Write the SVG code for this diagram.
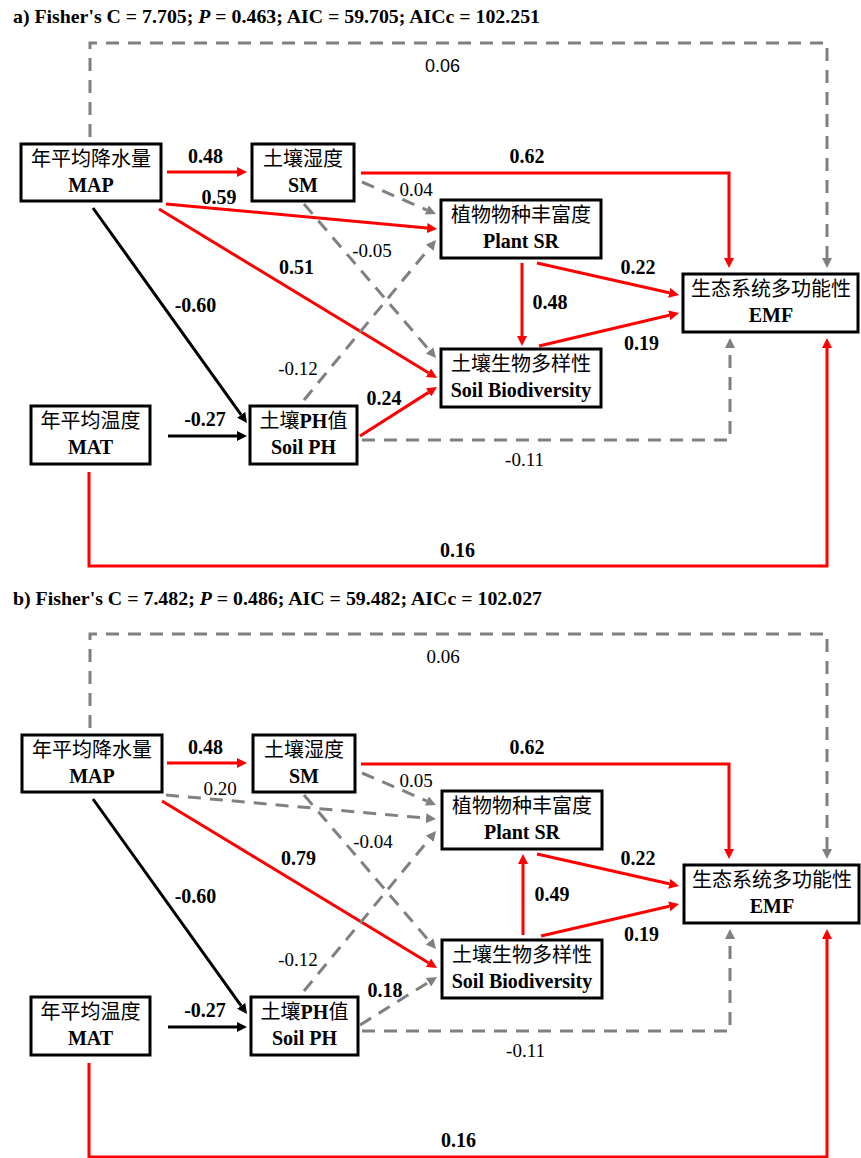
<svg xmlns="http://www.w3.org/2000/svg" width="861" height="1158" viewBox="0 0 861 1158">
<style>
.box{fill:#fff;stroke:#000;stroke-width:3}
.cn{font-family:"Liberation Serif","Noto Sans CJK SC",serif;font-size:20px;text-anchor:middle;fill:#000}
.en{font-family:"Liberation Serif",serif;font-size:20px;font-weight:bold;text-anchor:middle;fill:#000}
.lb{font-family:"Liberation Serif",serif;font-size:20px;font-weight:bold;text-anchor:middle;fill:#000}
.lr{font-family:"Liberation Serif",serif;font-size:19px;text-anchor:middle;fill:#000}
.ls{font-family:"Liberation Sans",sans-serif;font-size:18px;text-anchor:middle;fill:#000}
.ti{font-family:"Liberation Serif",serif;font-size:19px;font-weight:bold;fill:#000}
.r{fill:none;stroke:#ff0000;stroke-width:3;marker-end:url(#ar)}
.k{fill:none;stroke:#000;stroke-width:3;marker-end:url(#ak)}
.g{fill:none;stroke:#808080;stroke-width:3;stroke-dasharray:13 9;marker-end:url(#ag)}
</style>
<defs>
<marker id="ar" markerUnits="userSpaceOnUse" markerWidth="10" markerHeight="10" viewBox="0 0 10 10" refX="0" refY="5" orient="auto"><path d="M0,0 L10,5 L0,10 z" fill="#ff0000"/></marker>
<marker id="ak" markerUnits="userSpaceOnUse" markerWidth="10" markerHeight="10" viewBox="0 0 10 10" refX="0" refY="5" orient="auto"><path d="M0,0 L10,5 L0,10 z" fill="#000"/></marker>
<marker id="ag" markerUnits="userSpaceOnUse" markerWidth="10" markerHeight="10" viewBox="0 0 10 10" refX="0" refY="5" orient="auto"><path d="M0,0 L10,5 L0,10 z" fill="#808080"/></marker>
</defs>
<rect width="861" height="1158" fill="#fff"/>

<text class="ti" x="13" y="23" textLength="527" lengthAdjust="spacingAndGlyphs">a) Fisher's C = 7.705; <tspan font-style="italic">P</tspan> = 0.463; AIC = 59.705; AICc = 102.251</text>
<text class="ti" x="13" y="605" textLength="529" lengthAdjust="spacingAndGlyphs">b) Fisher's C = 7.482; <tspan font-style="italic">P</tspan> = 0.486; AIC = 59.482; AICc = 102.027</text>

<g id="panelA">
<g id="edgesA">
<path class="r" d="M167,172 L237,172"/>
<path class="r" d="M166,204 L427.04,228.08"/>
<path class="r" d="M159,209 L428.45,372.8"/>
<path class="k" d="M93,208 L241.18,414.87"/>
<path class="k" d="M168,436 L237,436"/>
<path class="g" d="M362,182 L426.82,210.03"/>
<path class="g" d="M304,204 L429.49,350.41"/>
<path class="r" d="M361,173 L729,173 L729,258"/>
<path class="g" d="M304,400 L429.64,247.71"/>
<path class="r" d="M360,436 L428.56,392.37"/>
<path class="g" d="M362,440 L730,440 L730,348"/>
<path class="r" d="M522,263 L522,336"/>
<path class="r" d="M537,263 L669.24,292.8"/>
<path class="r" d="M539,346 L669.27,315.29"/>
<path class="g" d="M90,137 L90,43 L827,43 L827,258"/>
<path class="r" d="M89,472 L89,566 L827,566 L827,348"/>
<text class="lb" x="205.5" y="163">0.48</text>
<text class="lb" x="219" y="204">0.59</text>
<text class="lb" x="296.5" y="274">0.51</text>
<text class="lb" x="195.5" y="312">-0.60</text>
<text class="lb" x="205" y="426">-0.27</text>
<text class="lr" x="416" y="196">0.04</text>
<text class="lr" x="372" y="257">-0.05</text>
<text class="lb" x="527" y="163">0.62</text>
<text class="lr" x="298" y="375">-0.12</text>
<text class="lb" x="384" y="405">0.24</text>
<text class="lr" x="524.5" y="466">-0.11</text>
<text class="lb" x="550" y="309">0.48</text>
<text class="lb" x="638" y="274">0.22</text>
<text class="lb" x="641.5" y="350">0.19</text>
<text class="ls" x="442.5" y="72">0.06</text>
<text class="lb" x="457.5" y="557">0.16</text>
</g>
<g id="a-MAP"><rect class="box" x="21" y="144" width="140" height="57"/><text class="cn" x="91" y="166">年平均降水量</text><text class="en" x="91" y="192">MAP</text></g>
<g id="a-SM"><rect class="box" x="252" y="144" width="102" height="57"/><text class="cn" x="303" y="166">土壤湿度</text><text class="en" x="303" y="192">SM</text></g>
<g id="a-PlantSR"><rect class="box" x="441" y="200" width="160" height="58"/><text class="cn" x="521" y="222">植物物种丰富度</text><text class="en" x="521" y="248">Plant SR</text></g>
<g id="a-SoilBio"><rect class="box" x="441" y="349" width="160" height="58"/><text class="cn" x="521" y="371">土壤生物多样性</text><text class="en" x="521" y="397">Soil Biodiversity</text></g>
<g id="a-EMF"><rect class="box" x="683" y="274" width="175" height="58"/><text class="cn" x="771" y="296">生态系统多功能性</text><text class="en" x="771" y="322">EMF</text></g>
<g id="a-MAT"><rect class="box" x="31" y="406" width="119" height="58"/><text class="cn" x="90.5" y="428">年平均温度</text><text class="en" x="90.5" y="454">MAT</text></g>
<g id="a-SoilPH"><rect class="box" x="250" y="406" width="107" height="58"/><text class="cn" x="303.5" y="428">土壤<tspan font-weight="bold">PH</tspan>值</text><text class="en" x="303.5" y="454">Soil PH</text></g>
</g>

<g id="panelB" transform="translate(0,591)">
<g id="edgesB">
<path class="r" d="M167,172 L237,172"/>
<path class="g" d="M166,204 L426.04,227.11"/>
<path class="r" d="M162,210 L428.45,371.81"/>
<path class="k" d="M93,208 L241.18,414.87"/>
<path class="k" d="M168,436 L237,436"/>
<path class="g" d="M362,182 L426.82,210.03"/>
<path class="g" d="M304,204 L429.49,350.41"/>
<path class="r" d="M361,173 L729,173 L729,258"/>
<path class="g" d="M304,400 L429.64,247.71"/>
<path class="g" d="M360,434 L428.51,391.29"/>
<path class="g" d="M362,440 L730,440 L730,348"/>
<path class="r" d="M523,344 L523,273"/>
<path class="r" d="M537,263 L669.24,292.8"/>
<path class="r" d="M541,345 L669.27,315.29"/>
<path class="g" d="M90,137 L90,43 L827,43 L827,258"/>
<path class="r" d="M89,472 L89,566 L827,566 L827,348"/>
<text class="lb" x="205.5" y="163">0.48</text>
<text class="lr" x="220" y="204">0.20</text>
<text class="lb" x="298.5" y="274">0.79</text>
<text class="lb" x="195.5" y="312">-0.60</text>
<text class="lb" x="205" y="426">-0.27</text>
<text class="lr" x="416" y="196">0.05</text>
<text class="lr" x="373" y="257">-0.04</text>
<text class="lb" x="527" y="163">0.62</text>
<text class="lr" x="298" y="375">-0.12</text>
<text class="lb" x="385" y="406">0.18</text>
<text class="lr" x="525.5" y="466">-0.11</text>
<text class="lb" x="552" y="310">0.49</text>
<text class="lb" x="638" y="274">0.22</text>
<text class="lb" x="641.5" y="350">0.19</text>
<text class="lr" x="443" y="72">0.06</text>
<text class="lb" x="458.5" y="556">0.16</text>
</g>
<g id="b-MAP"><rect class="box" x="22" y="144" width="140" height="57"/><text class="cn" x="92" y="166">年平均降水量</text><text class="en" x="92" y="192">MAP</text></g>
<g id="b-SM"><rect class="box" x="253" y="144" width="102" height="57"/><text class="cn" x="304" y="166">土壤湿度</text><text class="en" x="304" y="192">SM</text></g>
<g id="b-PlantSR"><rect class="box" x="442" y="200" width="160" height="58"/><text class="cn" x="522" y="222">植物物种丰富度</text><text class="en" x="522" y="248">Plant SR</text></g>
<g id="b-SoilBio"><rect class="box" x="442" y="349" width="160" height="58"/><text class="cn" x="522" y="371">土壤生物多样性</text><text class="en" x="522" y="397">Soil Biodiversity</text></g>
<g id="b-EMF"><rect class="box" x="684" y="274" width="175" height="58"/><text class="cn" x="772" y="296">生态系统多功能性</text><text class="en" x="772" y="322">EMF</text></g>
<g id="b-MAT"><rect class="box" x="31" y="406" width="119" height="58"/><text class="cn" x="90.5" y="428">年平均温度</text><text class="en" x="90.5" y="454">MAT</text></g>
<g id="b-SoilPH"><rect class="box" x="251" y="406" width="107" height="58"/><text class="cn" x="304.5" y="428">土壤<tspan font-weight="bold">PH</tspan>值</text><text class="en" x="304.5" y="454">Soil PH</text></g>
</g>
</svg>
